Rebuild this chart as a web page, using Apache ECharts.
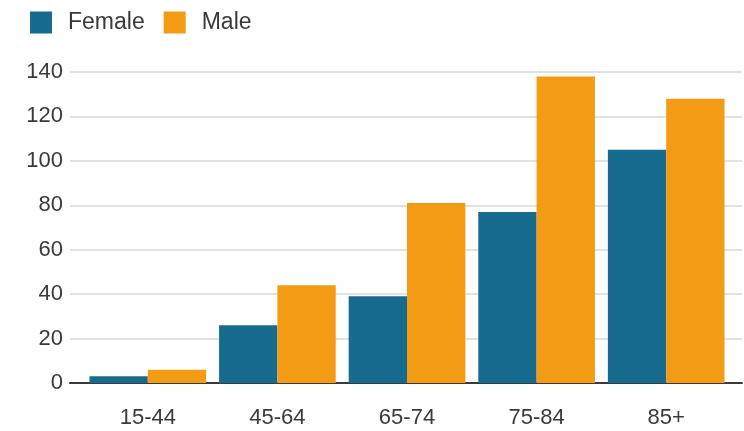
<!DOCTYPE html>
<html>
<head>
<meta charset="utf-8">
<script src="https://cdn.jsdelivr.net/npm/echarts@6/dist/echarts.min.js"></script>
<style>
  html, body { margin: 0; padding: 0; background: #fff; }
  #chart { width: 744px; height: 431px; }
</style>
</head>
<body>
<div id="chart"></div>
<script>
// Age groups and counts per sex
const ageGroups = ['15-44', '45-64', '65-74', '75-84', '85+'];
const femaleValues = [3, 26, 39, 77, 105];
const maleValues = [6, 44, 81, 138, 128];
const yTicks = { min: 0, max: 140, step: 20 };

const FONT = 'Liberation Sans, Arial, sans-serif';
const chart = echarts.init(document.getElementById('chart'));

chart.setOption({
  animation: false,
  backgroundColor: '#ffffff',
  legend: {
    left: 25,
    top: 6,
    itemWidth: 22,
    itemHeight: 22,
    itemGap: 19,
    icon: 'rect',
    textStyle: { fontFamily: FONT, fontSize: 23, color: '#3a3a3a', padding: [0, 0, 0, 11] },
    data: ['Female', 'Male']
  },
  grid: [
    // frame grid: gridlines, y labels and baseline span the full width
    { left: 70, right: 2, top: 72, bottom: 48 },
    // bar grid
    { left: 83, right: 13, top: 72, bottom: 48 }
  ],
  xAxis: [
    {
      gridIndex: 0, type: 'value', min: 0, max: 1,
      axisLine: { show: true, onZero: false, lineStyle: { color: '#3a3a3a', width: 2 } },
      axisTick: { show: false }, axisLabel: { show: false }, splitLine: { show: false }
    },
    {
      gridIndex: 1, type: 'category', data: ageGroups,
      axisLine: { show: false }, axisTick: { show: false },
      axisLabel: { fontFamily: FONT, fontSize: 22, color: '#3a3a3a', margin: 24 }
    }
  ],
  yAxis: [
    {
      gridIndex: 0, type: 'value', min: yTicks.min, max: yTicks.max, interval: yTicks.step,
      axisLine: { show: false }, axisTick: { show: false },
      axisLabel: { fontFamily: FONT, fontSize: 22, color: '#3a3a3a', margin: 7 },
      splitLine: { lineStyle: { color: '#e2e2e2', width: 2 } }
    },
    {
      gridIndex: 1, type: 'value', min: yTicks.min, max: yTicks.max, interval: yTicks.step,
      show: false, splitLine: { show: false }
    }
  ],
  series: [
    {
      name: 'Female', type: 'bar', xAxisIndex: 1, yAxisIndex: 1,
      data: femaleValues, itemStyle: { color: '#176b8e' },
      barGap: '0%', barCategoryGap: '10%'
    },
    {
      name: 'Male', type: 'bar', xAxisIndex: 1, yAxisIndex: 1,
      data: maleValues, itemStyle: { color: '#f49b14' },
      barGap: '0%', barCategoryGap: '10%'
    }
  ]
});
</script>
</body>
</html>
